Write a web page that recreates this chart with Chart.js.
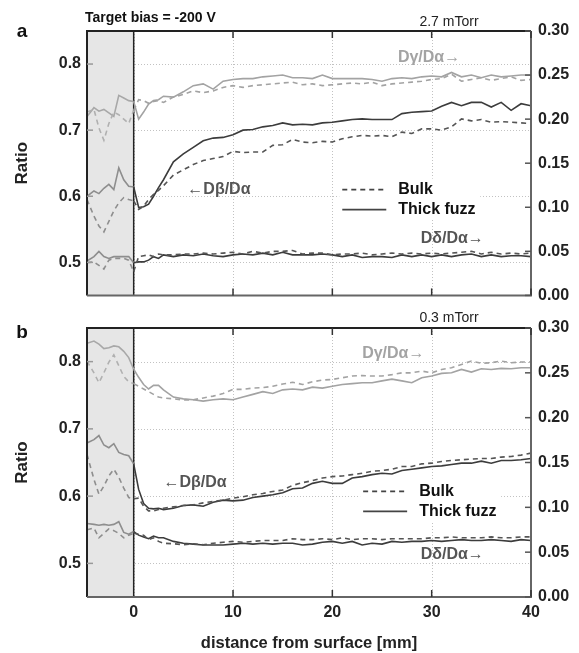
<!DOCTYPE html>
<html>
<head>
<meta charset="utf-8">
<script src="https://cdn.jsdelivr.net/npm/chart.js@4.4.1/dist/chart.umd.min.js"></script>
<style>
  body { margin: 0; background: #fff; }
  #wrap { position: relative; width: 579px; height: 653px; }
  canvas { position: absolute; left: 0; }
  #panelA { top: 0; }
  #panelB { top: 300px; }
</style>
</head>
<body>
<div id="wrap">
  <canvas id="panelA" width="579" height="312"></canvas>
  <canvas id="panelB" width="579" height="353"></canvas>
</div>
<script>
// distance from surface [mm]
const distance = [-4.7, -4, -3.5, -3, -2.5, -2, -1.5, -1, -0.5, 0, 0.5, 1, 1.5, 2, 2.5, 3,
  4, 5, 6, 7, 8, 9, 10, 11, 12, 13, 14, 15, 16, 17, 18, 19, 20, 21, 22, 23, 24, 25, 26, 27, 28, 29,
  30, 31, 32, 33, 34, 35, 36, 37, 38, 39, 40];

const xTicks = [0, 10, 20, 30, 40];
const leftTicks = [0.5, 0.6, 0.7, 0.8];
const rightTicks = [0, 0.05, 0.1, 0.15, 0.2, 0.25, 0.3];

// panel a (2.7 mTorr)
const aGammaFuzz = [0.203, 0.213, 0.209, 0.211, 0.207, 0.203, 0.227, 0.224, 0.221, 0.220, 0.200, 0.208, 0.217, 0.221, 0.222, 0.226,
  0.225, 0.231, 0.238, 0.240, 0.234, 0.243, 0.245, 0.246, 0.246, 0.248, 0.249, 0.250, 0.247, 0.247, 0.246, 0.250, 0.246, 0.246, 0.246, 0.246, 0.245, 0.243, 0.246, 0.247, 0.246, 0.248, 0.249, 0.248, 0.253, 0.248, 0.250, 0.247, 0.250, 0.248, 0.249, 0.250, 0.250];
const aGammaBulk = [0.208, 0.211, 0.190, 0.176, 0.195, 0.208, 0.205, 0.200, 0.195, 0.210, 0.222, 0.221, 0.218, 0.220, 0.221, 0.219,
  0.225, 0.228, 0.232, 0.230, 0.232, 0.236, 0.238, 0.236, 0.238, 0.239, 0.240, 0.241, 0.242, 0.239, 0.240, 0.238, 0.239, 0.240, 0.241, 0.240, 0.242, 0.238, 0.240, 0.241, 0.242, 0.243, 0.245, 0.246, 0.251, 0.243, 0.245, 0.247, 0.244, 0.246, 0.248, 0.244, 0.245];
const aBetaFuzz = [0.600, 0.608, 0.604, 0.612, 0.618, 0.610, 0.643, 0.625, 0.615, 0.614, 0.583, 0.584, 0.588, 0.600, 0.613, 0.625,
  0.652, 0.664, 0.674, 0.684, 0.688, 0.689, 0.693, 0.700, 0.701, 0.705, 0.707, 0.711, 0.708, 0.709, 0.708, 0.711, 0.712, 0.714, 0.716, 0.717, 0.716, 0.716, 0.716, 0.725, 0.727, 0.728, 0.729, 0.736, 0.742, 0.737, 0.742, 0.742, 0.735, 0.742, 0.730, 0.740, 0.737];
const aBetaBulk = [0.595, 0.570, 0.555, 0.546, 0.562, 0.578, 0.590, 0.598, 0.595, 0.593, 0.580, 0.585, 0.595, 0.603, 0.609, 0.616,
  0.632, 0.640, 0.648, 0.654, 0.657, 0.660, 0.668, 0.666, 0.667, 0.667, 0.677, 0.678, 0.686, 0.682, 0.681, 0.683, 0.682, 0.687, 0.690, 0.692, 0.691, 0.692, 0.690, 0.697, 0.695, 0.702, 0.702, 0.700, 0.705, 0.717, 0.714, 0.716, 0.712, 0.713, 0.712, 0.711, 0.710];
const aDeltaFuzz = [0.039, 0.044, 0.050, 0.044, 0.042, 0.044, 0.044, 0.044, 0.044, 0.037, 0.038, 0.038, 0.040, 0.044, 0.042, 0.046,
  0.044, 0.046, 0.045, 0.047, 0.045, 0.044, 0.046, 0.047, 0.046, 0.048, 0.046, 0.049, 0.046, 0.046, 0.046, 0.047, 0.046, 0.044, 0.046, 0.043, 0.044, 0.044, 0.043, 0.046, 0.044, 0.046, 0.044, 0.046, 0.044, 0.046, 0.047, 0.044, 0.046, 0.044, 0.045, 0.045, 0.044];
const aDeltaBulk = [0.037, 0.038, 0.034, 0.030, 0.040, 0.042, 0.042, 0.042, 0.040, 0.027, 0.044, 0.045, 0.046, 0.044, 0.047, 0.046,
  0.046, 0.047, 0.047, 0.048, 0.047, 0.048, 0.049, 0.047, 0.050, 0.048, 0.050, 0.050, 0.051, 0.047, 0.048, 0.048, 0.046, 0.047, 0.047, 0.048, 0.046, 0.047, 0.048, 0.047, 0.048, 0.047, 0.048, 0.047, 0.048, 0.049, 0.050, 0.047, 0.049, 0.047, 0.048, 0.047, 0.048];

// panel b (0.3 mTorr)
const bGammaFuzz = [0.283, 0.2855, 0.282, 0.277, 0.278, 0.280, 0.279, 0.274, 0.267, 0.254, 0.245, 0.237, 0.232, 0.236, 0.236, 0.231,
  0.223, 0.221, 0.220, 0.2185, 0.220, 0.221, 0.220, 0.223, 0.226, 0.229, 0.227, 0.231, 0.232, 0.231, 0.234, 0.233, 0.235, 0.237, 0.238, 0.239, 0.239, 0.241, 0.243, 0.241, 0.239, 0.2445, 0.2465, 0.2494, 0.2501, 0.2538, 0.2508, 0.2545, 0.2538, 0.255, 0.2545, 0.2557, 0.2557];
const bGammaBulk = [0.263, 0.250, 0.239, 0.250, 0.262, 0.270, 0.258, 0.246, 0.240, 0.238, 0.235, 0.232, 0.229, 0.226, 0.223, 0.222,
  0.221, 0.2196, 0.220, 0.222, 0.224, 0.227, 0.2315, 0.2315, 0.233, 0.2335, 0.235, 0.2375, 0.2395, 0.237, 0.240, 0.242, 0.2426, 0.2445, 0.2464, 0.247, 0.2464, 0.2464, 0.248, 0.250, 0.250, 0.252, 0.250, 0.2538, 0.2557, 0.2594, 0.2631, 0.2606, 0.2613, 0.2631, 0.2613, 0.262, 0.262];
const bBetaFuzz = [0.679, 0.684, 0.690, 0.676, 0.672, 0.678, 0.665, 0.662, 0.660, 0.648, 0.610, 0.589, 0.582, 0.581, 0.582, 0.580,
  0.582, 0.586, 0.587, 0.585, 0.591, 0.594, 0.593, 0.594, 0.598, 0.600, 0.602, 0.605, 0.611, 0.612, 0.619, 0.622, 0.619, 0.619, 0.627, 0.629, 0.632, 0.634, 0.633, 0.638, 0.640, 0.642, 0.644, 0.645, 0.647, 0.649, 0.649, 0.652, 0.649, 0.653, 0.653, 0.654, 0.656];
const bBetaBulk = [0.662, 0.625, 0.603, 0.615, 0.630, 0.640, 0.628, 0.612, 0.598, 0.596, 0.597, 0.585, 0.578, 0.578, 0.580, 0.582,
  0.584, 0.586, 0.587, 0.590, 0.592, 0.594, 0.597, 0.599, 0.602, 0.604, 0.607, 0.609, 0.616, 0.620, 0.623, 0.627, 0.629, 0.630, 0.632, 0.634, 0.637, 0.638, 0.640, 0.644, 0.644, 0.648, 0.649, 0.6515, 0.653, 0.654, 0.655, 0.656, 0.656, 0.658, 0.659, 0.661, 0.664];
const bDeltaFuzz = [0.082, 0.081, 0.080, 0.081, 0.080, 0.081, 0.084, 0.072, 0.070, 0.073, 0.069, 0.067, 0.065, 0.068, 0.066, 0.066,
  0.062, 0.060, 0.059, 0.058, 0.058, 0.058, 0.059, 0.060, 0.059, 0.060, 0.059, 0.060, 0.060, 0.058, 0.059, 0.061, 0.062, 0.060, 0.062, 0.058, 0.060, 0.059, 0.062, 0.061, 0.062, 0.062, 0.063, 0.062, 0.063, 0.064, 0.063, 0.063, 0.064, 0.063, 0.062, 0.064, 0.063];
const bDeltaBulk = [0.075, 0.077, 0.066, 0.071, 0.076, 0.074, 0.071, 0.066, 0.069, 0.071, 0.070, 0.069, 0.064, 0.066, 0.062, 0.060,
  0.0594, 0.0583, 0.0594, 0.0583, 0.060, 0.061, 0.062, 0.061, 0.062, 0.063, 0.063, 0.063, 0.065, 0.064, 0.064, 0.065, 0.064, 0.066, 0.064, 0.065, 0.065, 0.064, 0.065, 0.065, 0.065, 0.065, 0.066, 0.066, 0.067, 0.066, 0.066, 0.066, 0.067, 0.066, 0.066, 0.067, 0.067];

const FONT = "'Liberation Sans', Arial, sans-serif";
Chart.defaults.font.family = FONT;
Chart.defaults.color = '#222';

const GAMMA = '#a3a3a3';
const DARK = '#3c3c3c';
const DARK_DASH = '#555';
const IN_SHADE = '#8e8e8e';

function series(arr, axis, color, shadeColor, dashed) {
  return {
    data: distance.map((x, i) => ({ x: x, y: arr[i] })),
    yAxisID: axis,
    borderColor: color,
    borderWidth: 1.6,
    borderDash: dashed ? [5, 4] : [],
    pointRadius: 0,
    tension: 0,
    fill: false,
    segment: {
      borderColor: ctx => distance[ctx.p1DataIndex] <= 0 ? shadeColor : undefined
    }
  };
}

function makePanel(id, p) {
  const decor = {
    id: 'decor_' + id,
    beforeDatasetsDraw(chart) {
      const { ctx, chartArea: a, scales } = chart;
      const x = scales.x, y = scales.y;
      ctx.save();
      // dotted grid
      ctx.strokeStyle = '#c2c2c2';
      ctx.lineWidth = 1;
      ctx.setLineDash([1, 2]);
      leftTicks.forEach(v => {
        const py = Math.round(y.getPixelForValue(v)) + 0.5;
        ctx.beginPath(); ctx.moveTo(a.left, py); ctx.lineTo(a.right, py); ctx.stroke();
      });
      xTicks.forEach(v => {
        const px = Math.round(x.getPixelForValue(v)) + 0.5;
        ctx.beginPath(); ctx.moveTo(px, a.top); ctx.lineTo(px, a.bottom); ctx.stroke();
      });
      ctx.setLineDash([]);
      // shaded region left of the surface
      const x0 = x.getPixelForValue(0);
      ctx.fillStyle = '#e6e6e6';
      ctx.fillRect(a.left, a.top, x0 - a.left, a.bottom - a.top);
      ctx.strokeStyle = '#222';
      ctx.lineWidth = 1.5;
      ctx.beginPath(); ctx.moveTo(x0, a.top); ctx.lineTo(x0, a.bottom); ctx.stroke();
      ctx.restore();
    },
    afterDatasetsDraw(chart) {
      const { ctx, chartArea: a, scales } = chart;
      const x = scales.x, y = scales.y, y2 = scales.y2;
      ctx.save();
      // frame
      ctx.lineWidth = 2;
      ctx.strokeStyle = '#222';
      ctx.beginPath(); ctx.moveTo(a.left, a.bottom); ctx.lineTo(a.left, a.top); ctx.lineTo(a.right, a.top); ctx.stroke();
      ctx.strokeStyle = '#666';
      ctx.beginPath(); ctx.moveTo(a.right, a.top); ctx.lineTo(a.right, a.bottom); ctx.lineTo(a.left, a.bottom); ctx.stroke();
      // inward ticks
      ctx.lineWidth = 1.5;
      ctx.strokeStyle = '#333';
      xTicks.slice(1).forEach(v => {
        const px = x.getPixelForValue(v);
        ctx.beginPath(); ctx.moveTo(px, a.top); ctx.lineTo(px, a.top + 7); ctx.stroke();
        ctx.beginPath(); ctx.moveTo(px, a.bottom); ctx.lineTo(px, a.bottom - 7); ctx.stroke();
      });
      ctx.strokeStyle = '#999';
      leftTicks.forEach(v => {
        const py = y.getPixelForValue(v);
        ctx.beginPath(); ctx.moveTo(a.left, py); ctx.lineTo(a.left + 6, py); ctx.stroke();
      });
      ctx.strokeStyle = '#555';
      rightTicks.forEach(v => {
        const py = y2.getPixelForValue(v);
        ctx.beginPath(); ctx.moveTo(a.right, py); ctx.lineTo(a.right - 6, py); ctx.stroke();
      });

      // legend
      const lx = x.getPixelForValue(p.legend[0]);
      const ly = y.getPixelForValue(p.legend[1]);
      ctx.fillStyle = '#fff';
      ctx.fillRect(lx - 3, ly - 11, 141, 41);
      ctx.strokeStyle = '#444';
      ctx.lineWidth = 1.6;
      ctx.setLineDash([5, 4]);
      ctx.beginPath(); ctx.moveTo(lx, ly); ctx.lineTo(lx + 44, ly); ctx.stroke();
      ctx.setLineDash([]);
      ctx.beginPath(); ctx.moveTo(lx, ly + 20); ctx.lineTo(lx + 44, ly + 20); ctx.stroke();
      ctx.fillStyle = '#111';
      ctx.font = 'bold 16px ' + FONT;
      ctx.textAlign = 'left';
      ctx.textBaseline = 'middle';
      ctx.fillText('Bulk', lx + 56, ly);
      ctx.fillText('Thick fuzz', lx + 56, ly + 20);

      // series labels
      p.labels.forEach(l => {
        const sc = l.axis === 'y' ? y : y2;
        ctx.fillStyle = l.color;
        ctx.font = 'bold 16px ' + FONT;
        ctx.fillText(l.text, x.getPixelForValue(l.x), sc.getPixelForValue(l.y));
      });

      // panel letter and captions
      ctx.fillStyle = '#111';
      ctx.textAlign = 'center';
      ctx.font = 'bold 19px ' + FONT;
      ctx.fillText(p.letter, 22, p.letterY);
      if (p.bias) {
        ctx.textAlign = 'left';
        ctx.font = 'bold 14px ' + FONT;
        ctx.fillText(p.bias, 85, 18);
      }
      ctx.textAlign = 'center';
      ctx.font = '14px ' + FONT;
      ctx.fillStyle = '#222';
      ctx.fillText(p.pressure, 449, p.pressureY);
      ctx.restore();
    }
  };

  new Chart(document.getElementById(id), {
    type: 'line',
    data: {
      datasets: [
        series(p.gammaBulk, 'y2', GAMMA, '#b0b0b0', true),
        series(p.gammaFuzz, 'y2', GAMMA, '#a8a8a8', false),
        series(p.deltaBulk, 'y2', DARK_DASH, IN_SHADE, true),
        series(p.deltaFuzz, 'y2', DARK, IN_SHADE, false),
        series(p.betaBulk, 'y', DARK_DASH, IN_SHADE, true),
        series(p.betaFuzz, 'y', DARK, IN_SHADE, false)
      ]
    },
    options: {
      responsive: false,
      animation: false,
      events: [],
      layout: { padding: { top: p.top, left: 0, right: 0, bottom: 0 } },
      plugins: { legend: { display: false }, tooltip: { enabled: false } },
      scales: {
        x: {
          type: 'linear', min: -4.7, max: 40,
          grid: { display: false, drawTicks: false }, border: { display: false },
          afterBuildTicks: s => { s.ticks = xTicks.map(v => ({ value: v })); },
          ticks: { display: p.showX, padding: 6, color: '#222', maxRotation: 0, autoSkip: false,
                   font: { size: 16, weight: 'bold' } },
          title: { display: p.showX, text: 'distance from surface [mm]', color: '#222',
                   font: { size: 16.5, weight: 'bold' }, padding: { top: 0, bottom: 0 } },
          afterFit: s => { s.height = p.xHeight; }
        },
        y: {
          position: 'left', min: 0.45, max: 0.85,
          grid: { display: false, drawTicks: false }, border: { display: false },
          afterBuildTicks: s => { s.ticks = leftTicks.map(v => ({ value: v })); },
          ticks: { padding: 6, color: '#222', font: { size: 16, weight: 'bold' },
                   callback: v => Number(v).toFixed(1) },
          title: { display: true, text: 'Ratio', color: '#222',
                   font: { size: 17, weight: 'bold' }, padding: { top: 12, bottom: 0 } },
          afterFit: s => { s.width = 87; }
        },
        y2: {
          position: 'right', min: 0, max: 0.3,
          grid: { display: false, drawTicks: false }, border: { display: false },
          afterBuildTicks: s => { s.ticks = rightTicks.map(v => ({ value: v })); },
          ticks: { padding: 7, color: '#222', font: { size: 16, weight: 'bold' },
                   callback: v => Number(v).toFixed(2) },
          afterFit: s => { s.width = 48; }
        }
      }
    },
    plugins: [decor]
  });
}

makePanel('panelA', {
  top: 31, xHeight: 13, showX: false,
  gammaFuzz: aGammaFuzz, gammaBulk: aGammaBulk,
  betaFuzz: aBetaFuzz, betaBulk: aBetaBulk,
  deltaFuzz: aDeltaFuzz, deltaBulk: aDeltaBulk,
  legend: [21.0, 0.61],
  labels: [
    { text: 'Dγ/Dα→', x: 26.6, y: 0.270, axis: 'y2', color: '#a3a3a3' },
    { text: '←Dβ/Dα', x: 5.4, y: 0.610, axis: 'y', color: '#555' },
    { text: 'Dδ/Dα→', x: 28.9, y: 0.064, axis: 'y2', color: '#555' }
  ],
  letter: 'a', letterY: 32,
  bias: 'Target bias = -200 V',
  pressure: '2.7 mTorr', pressureY: 22
});

makePanel('panelB', {
  top: 28, xHeight: 56, showX: true,
  gammaFuzz: bGammaFuzz, gammaBulk: bGammaBulk,
  betaFuzz: bBetaFuzz, betaBulk: bBetaBulk,
  deltaFuzz: bDeltaFuzz, deltaBulk: bDeltaBulk,
  legend: [23.1, 0.607],
  labels: [
    { text: 'Dγ/Dα→', x: 23.0, y: 0.272, axis: 'y2', color: '#a3a3a3' },
    { text: '←Dβ/Dα', x: 3.0, y: 0.620, axis: 'y', color: '#555' },
    { text: 'Dδ/Dα→', x: 28.9, y: 0.0475, axis: 'y2', color: '#555' }
  ],
  letter: 'b', letterY: 33,
  bias: null,
  pressure: '0.3 mTorr', pressureY: 18
});
</script>
</body>
</html>
